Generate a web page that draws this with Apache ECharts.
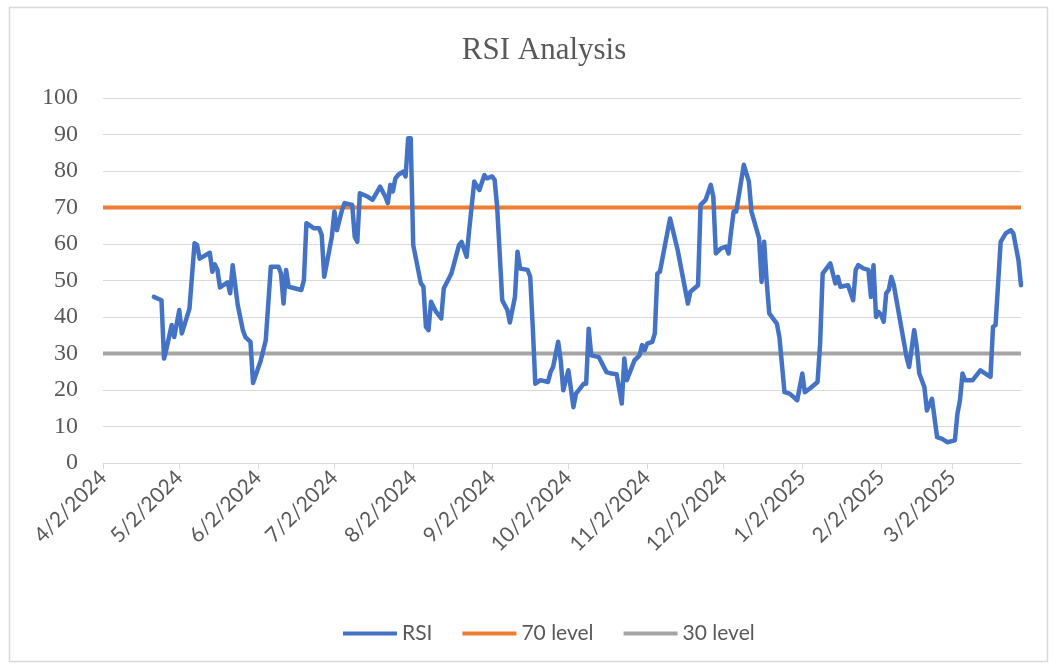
<!DOCTYPE html>
<html>
<head>
<meta charset="utf-8">
<title>RSI Analysis</title>
<script src="https://cdn.jsdelivr.net/npm/echarts@6/dist/echarts.min.js"></script>
<style>
  html, body { margin: 0; padding: 0; background: #fff; }
  #main { width: 1060px; height: 666px; }
</style>
</head>
<body>
<div id="main"></div>
<script>
// RSI values (date, value)
var rsiDates = [
  '2024-04-22','2024-04-25','2024-04-26','2024-04-27','2024-04-29','2024-04-30','2024-05-02','2024-05-03',
  '2024-05-06','2024-05-08','2024-05-09','2024-05-10','2024-05-14','2024-05-15','2024-05-16','2024-05-17',
  '2024-05-18','2024-05-21','2024-05-22','2024-05-23','2024-05-25','2024-05-27','2024-05-28','2024-05-30',
  '2024-05-31','2024-06-03','2024-06-05','2024-06-07','2024-06-10','2024-06-11','2024-06-12','2024-06-13',
  '2024-06-14','2024-06-19','2024-06-20','2024-06-21','2024-06-24','2024-06-26','2024-06-27','2024-06-28',
  '2024-07-01','2024-07-02','2024-07-03','2024-07-04','2024-07-05','2024-07-06','2024-07-09','2024-07-10',
  '2024-07-11','2024-07-12','2024-07-15','2024-07-17','2024-07-20','2024-07-22','2024-07-23','2024-07-24',
  '2024-07-25','2024-07-26','2024-07-27','2024-07-29','2024-07-30','2024-07-31','2024-08-01','2024-08-02',
  '2024-08-05','2024-08-06','2024-08-07','2024-08-08','2024-08-09','2024-08-11','2024-08-13','2024-08-14',
  '2024-08-17','2024-08-20','2024-08-21','2024-08-23','2024-08-24','2024-08-26','2024-08-28','2024-08-30',
  '2024-08-31','2024-09-02','2024-09-03','2024-09-04','2024-09-06','2024-09-08','2024-09-09','2024-09-11',
  '2024-09-12','2024-09-13','2024-09-16','2024-09-17','2024-09-18','2024-09-19','2024-09-21','2024-09-24',
  '2024-09-25','2024-09-26','2024-09-28','2024-09-29','2024-09-30','2024-10-02','2024-10-04','2024-10-05',
  '2024-10-08','2024-10-09','2024-10-10','2024-10-11','2024-10-14','2024-10-17','2024-10-19','2024-10-21',
  '2024-10-23','2024-10-24','2024-10-25','2024-10-28','2024-10-30','2024-10-31','2024-11-01','2024-11-02',
  '2024-11-04','2024-11-05','2024-11-06','2024-11-07','2024-11-11','2024-11-14','2024-11-18','2024-11-19',
  '2024-11-22','2024-11-23','2024-11-25','2024-11-27','2024-11-28','2024-11-29','2024-12-01','2024-12-03',
  '2024-12-04','2024-12-05','2024-12-06','2024-12-07','2024-12-10','2024-12-12','2024-12-13','2024-12-16',
  '2024-12-17','2024-12-18','2024-12-19','2024-12-20','2024-12-23','2024-12-24','2024-12-26','2024-12-28',
  '2024-12-31','2025-01-02','2025-01-03','2025-01-05','2025-01-08','2025-01-09','2025-01-10','2025-01-13',
  '2025-01-15','2025-01-16','2025-01-17','2025-01-20','2025-01-22','2025-01-23','2025-01-24','2025-01-26',
  '2025-01-28','2025-01-29','2025-01-30','2025-01-31','2025-02-01','2025-02-02','2025-02-03','2025-02-04',
  '2025-02-05','2025-02-06','2025-02-07','2025-02-12','2025-02-13','2025-02-15','2025-02-16','2025-02-17',
  '2025-02-19','2025-02-20','2025-02-22','2025-02-24','2025-02-26','2025-02-28','2025-03-03','2025-03-04',
  '2025-03-05','2025-03-06','2025-03-07','2025-03-10','2025-03-13','2025-03-15','2025-03-17','2025-03-18',
  '2025-03-19','2025-03-21','2025-03-23','2025-03-25','2025-03-26','2025-03-28','2025-03-29'
];
var rsiValues = [
  45.5, 44.6, 28.6, 31.4, 37.8, 34.5, 41.9, 35.5,
  42.3, 60.2, 59.7, 56.0, 57.6, 52.4, 54.4, 52.9,
  48.1, 49.5, 46.5, 54.2, 43.2, 36.4, 34.5, 33.2,
  21.9, 28.0, 33.6, 53.8, 53.8, 51.9, 43.7, 52.9,
  48.3, 47.4, 50.1, 65.7, 64.3, 64.3, 62.5, 51.0,
  62.0, 68.9, 63.8, 66.6, 69.3, 71.2, 70.7, 62.0,
  60.6, 73.9, 73.0, 72.1, 75.7, 73.0, 71.2, 76.2,
  74.4, 78.0, 78.9, 79.8, 78.5, 89.0, 89.0, 59.7,
  49.2, 48.3, 37.3, 36.4, 44.2, 41.4, 39.6, 47.8,
  51.9, 59.7, 60.6, 56.5, 63.8, 77.1, 74.8, 78.9,
  78.0, 78.5, 77.6, 70.2, 44.6, 41.9, 38.5, 45.5,
  57.9, 53.3, 52.9, 51.0, 37.3, 21.7, 22.7, 22.2,
  24.9, 26.3, 33.2, 28.1, 19.9, 25.4, 15.3, 19.0,
  21.7, 21.7, 36.8, 29.5, 29.0, 24.9, 24.5, 24.3,
  16.3, 28.6, 22.7, 28.1, 29.5, 32.3, 30.9, 32.7,
  33.2, 35.5, 51.9, 52.4, 67.0, 58.3, 43.7, 46.9,
  48.7, 70.7, 72.1, 76.2, 73.0, 57.4, 58.8, 59.3,
  57.4, 63.4, 68.9, 68.9, 81.7, 77.1, 68.9, 61.6,
  49.6, 60.6, 49.6, 41.0, 38.2, 34.5, 19.4, 19.0,
  17.2, 24.5, 19.4, 20.4, 22.2, 32.7, 51.9, 54.7,
  49.2, 51.0, 48.3, 48.7, 44.6, 52.9, 54.2, 53.3,
  52.9, 45.5, 54.2, 40.0, 41.4, 40.5, 38.7, 46.5,
  47.4, 51.0, 48.7, 29.0, 26.3, 36.4, 31.8, 24.5,
  20.8, 14.4, 17.6, 7.1, 6.6, 5.7, 6.2, 13.5,
  17.2, 24.5, 22.7, 22.7, 25.4, 24.5, 23.6, 37.3,
  37.8, 60.6, 62.9, 63.8, 62.9, 55.6, 48.7
];

// level lines span the whole date axis
var levelDates = ['2024-04-02', '2025-03-29'];
var level70 = [70, 70];
var level30 = [30, 30];

// x labels sit on the 2nd of every month
var tickDates = [
  '2024-04-02', '2024-05-02', '2024-06-02', '2024-07-02', '2024-08-02', '2024-09-02',
  '2024-10-02', '2024-11-02', '2024-12-02', '2025-01-02', '2025-02-02', '2025-03-02'
];

function toTime(s) {
  var p = s.split('-');
  return new Date(+p[0], +p[1] - 1, +p[2]).getTime();
}

function pairUp(xs, ys) {
  var out = [];
  for (var i = 0; i < xs.length; i++) {
    out.push([toTime(xs[i]), ys[i]]);
  }
  return out;
}

var tickValues = tickDates.map(toTime);

var textColor = '#595959';
var gridColor = '#d9d9d9';
var sansFont = 'Lato';
var serifFont = 'Liberation Serif';

var myChart = echarts.init(document.getElementById('main'));

var option = {
  backgroundColor: '#fff',
  animation: false,
  title: {
    text: 'RSI Analysis',
    left: 539,
    top: 30,
    textAlign: 'center',
    textStyle: {
      fontFamily: serifFont,
      fontSize: 31,
      fontWeight: 'normal',
      color: textColor
    }
  },
  graphic: [{
    type: 'rect',
    shape: { x: 9.5, y: 7.5, width: 1038, height: 654 },
    style: { fill: 'none', stroke: '#d9d9d9', lineWidth: 1.5 },
    silent: true,
    z: -10
  }],
  legend: {
    data: ['RSI', '70 level', '30 level'],
    left: 338,
    top: 618,
    icon: 'rect',
    itemWidth: 54,
    itemHeight: 4,
    itemGap: 30,
    textStyle: {
      fontFamily: sansFont,
      fontSize: 21,
      color: textColor
    }
  },
  grid: {
    left: 103,
    right: 39,
    top: 98,
    bottom: 203
  },
  xAxis: {
    type: 'value',
    min: toTime(levelDates[0]),
    max: toTime(levelDates[1]),
    axisLine: { show: true, lineStyle: { color: gridColor, width: 1 } },
    axisTick: {
      show: true,
      length: 6,
      customValues: tickValues,
      lineStyle: { color: gridColor, width: 1 }
    },
    axisLabel: {
      customValues: tickValues,
      rotate: 45,
      margin: 11,
      fontFamily: sansFont,
      fontSize: 21,
      color: textColor,
      formatter: function (v) {
        var d = new Date(v);
        return (d.getMonth() + 1) + '/' + d.getDate() + '/' + d.getFullYear();
      }
    },
    splitLine: { show: false }
  },
  yAxis: {
    type: 'value',
    min: 0,
    max: 100,
    interval: 10,
    axisLine: { show: false },
    axisTick: { show: false },
    axisLabel: {
      margin: 25,
      fontFamily: serifFont,
      fontSize: 24,
      color: textColor
    },
    splitLine: { lineStyle: { color: gridColor, width: 1 } }
  },
  series: [
    {
      name: 'RSI',
      type: 'line',
      data: pairUp(rsiDates, rsiValues),
      showSymbol: false,
      symbol: 'none',
      z: 3,
      lineStyle: { color: '#4472C4', width: 4.5, join: 'round', cap: 'round' },
      itemStyle: { color: '#4472C4' }
    },
    {
      name: '70 level',
      type: 'line',
      data: pairUp(levelDates, level70),
      showSymbol: false,
      symbol: 'none',
      z: 2,
      lineStyle: { color: '#ED7D31', width: 4 },
      itemStyle: { color: '#ED7D31' }
    },
    {
      name: '30 level',
      type: 'line',
      data: pairUp(levelDates, level30),
      showSymbol: false,
      symbol: 'none',
      z: 2,
      lineStyle: { color: '#A5A5A5', width: 4 },
      itemStyle: { color: '#A5A5A5' }
    }
  ]
};

myChart.setOption(option);
</script>
</body>
</html>
